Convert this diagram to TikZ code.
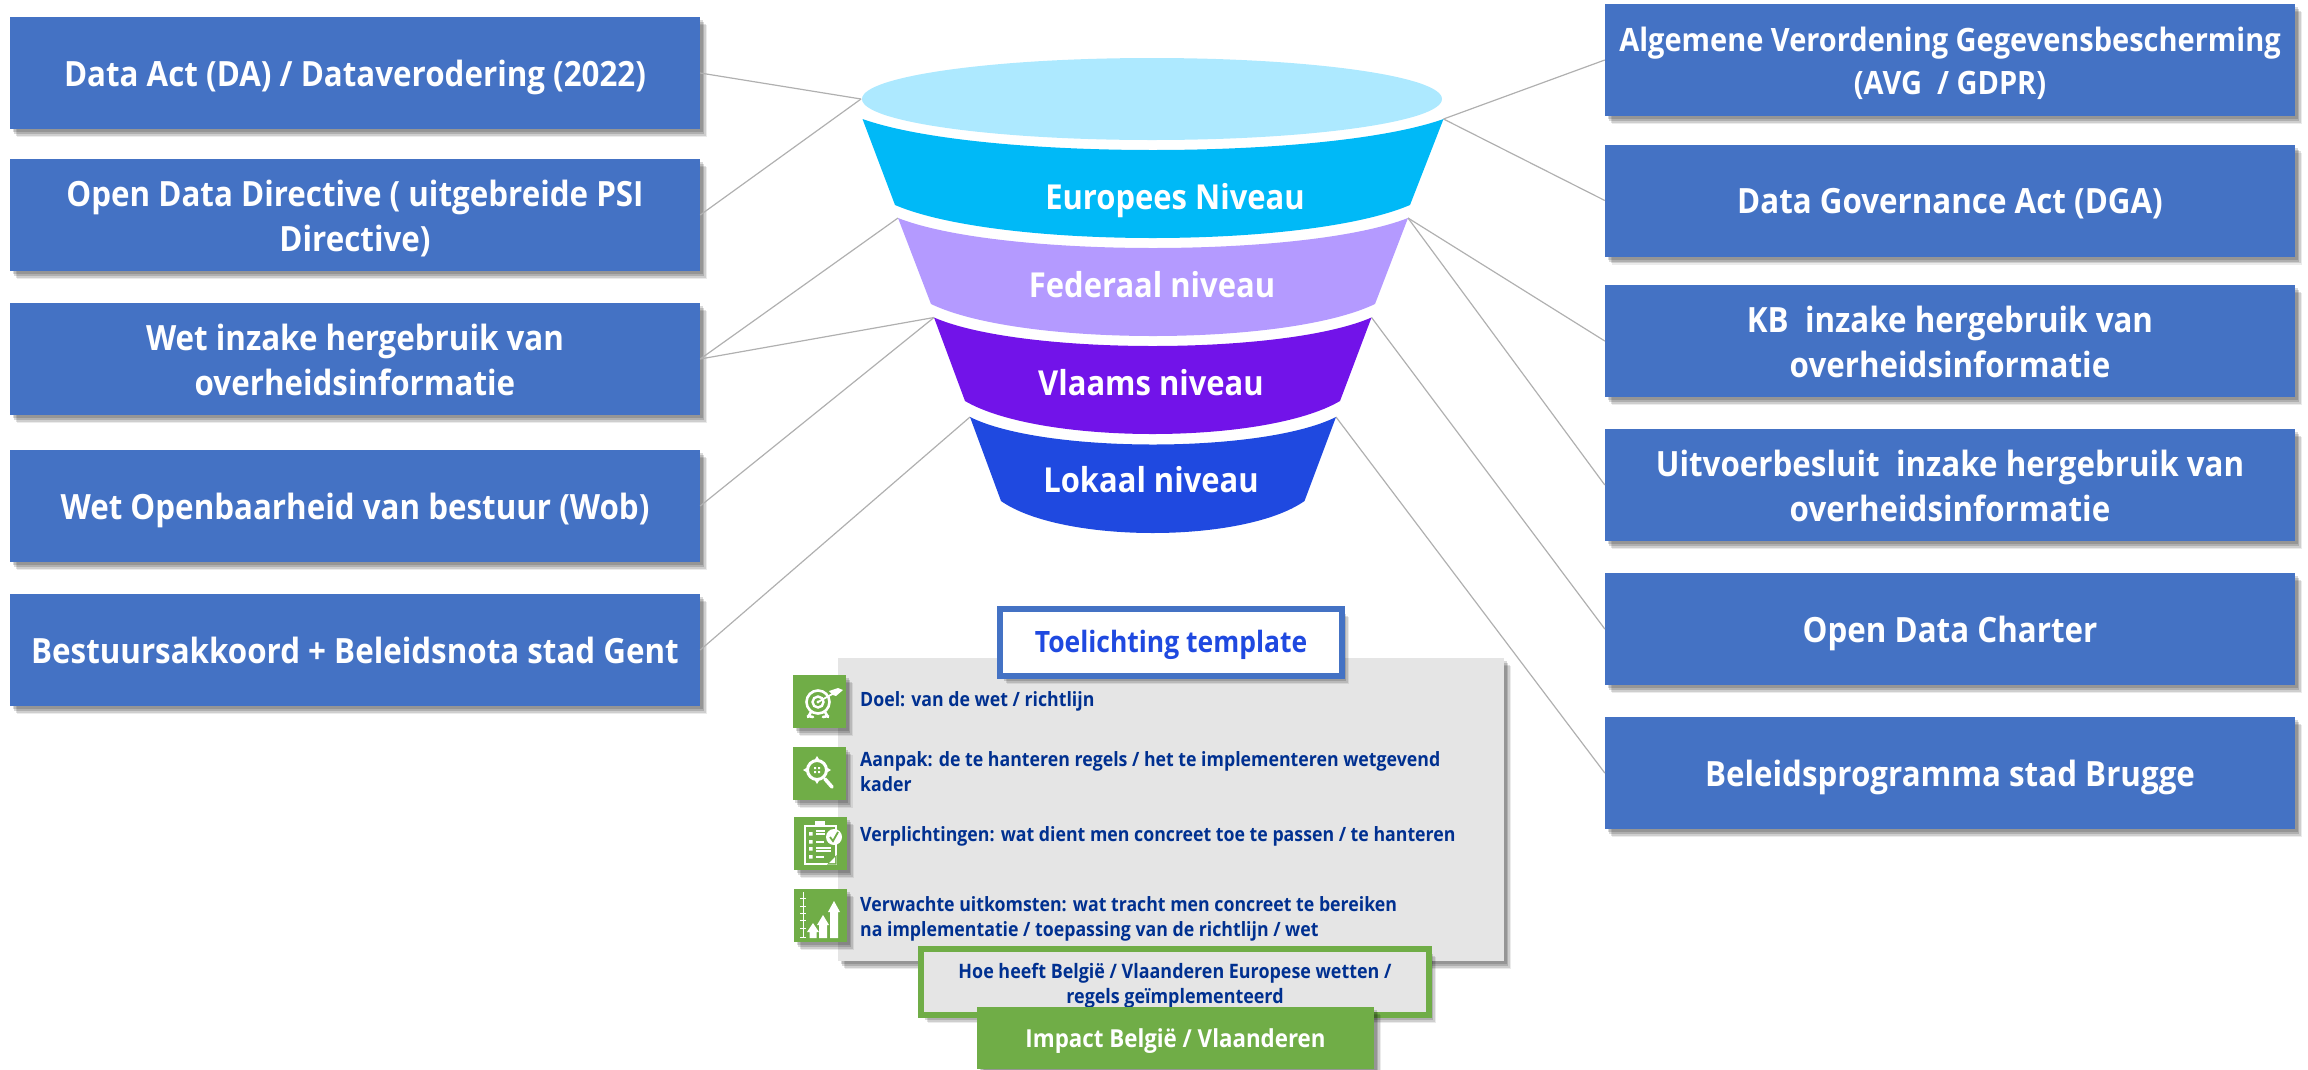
\documentclass[tikz,border=0pt]{standalone}
\usepackage{fontspec}
\setmainfont{Open Sans}[FakeStretch=0.9]
\usetikzlibrary{shadows,calc}
\definecolor{boxblue}{HTML}{4472C4}
\definecolor{bandA}{HTML}{00B9F7}
\definecolor{topell}{HTML}{ADE9FF}
\definecolor{bandB}{HTML}{B49AFF}
\definecolor{bandC}{HTML}{7213E9}
\definecolor{bandD}{HTML}{1F49E0}
\definecolor{greenbox}{HTML}{70AD47}
\definecolor{panelgray}{HTML}{E5E5E5}
\definecolor{darktext}{HTML}{003090}
\definecolor{linegray}{HTML}{B0B0B0}
% text placed by its first baseline, relative to the node centre
\newcommand{\lawone}[1]{\smash{\raisebox{-13.3pt}{#1}}}
\newcommand{\lawtwo}[2]{\smash{\raisebox{9pt}{\begin{tabular}[t]{@{}c@{}}#1\\#2\end{tabular}}}}
\newcommand{\hoelines}[2]{\smash{\raisebox{4pt}{\begin{tabular}[t]{@{}c@{}}#1\\#2\end{tabular}}}}
\tikzset{
  softshadow/.style={
    drop shadow={shadow xshift=7pt,shadow yshift=-8pt,fill=black,opacity=.08},
    drop shadow={shadow xshift=5.5pt,shadow yshift=-6.5pt,fill=black,opacity=.12},
    drop shadow={shadow xshift=4pt,shadow yshift=-5pt,fill=black,opacity=.15},
    drop shadow={shadow xshift=2.5pt,shadow yshift=-3pt,fill=black,opacity=.15}},
  lawbox/.style={draw=none,fill=boxblue,text=white,font=\bfseries\fontsize{34.8}{45}\selectfont,
    minimum width=690pt,minimum height=112pt,inner sep=0pt,softshadow},
  link/.style={draw=linegray,line width=1.2pt},
  bandlabel/.style={text=white,font=\bfseries\fontsize{34.4}{40}\selectfont,inner sep=0pt,text height=40pt,text depth=16pt},
  tmpl/.style={text=darktext,font=\bfseries\fontsize{19.7}{25}\selectfont,anchor=west,align=left,inner sep=0pt},
  iconbox/.style={fill=greenbox,draw=none,minimum width=53pt,minimum height=53pt,inner sep=0pt,softshadow},
  ic/.style={draw=white,line width=2pt,fill=none},
}
\newcommand{\funnelband}[9]{%
  \pgfmathsetmacro{\tw}{#3-#2}\pgfmathsetmacro{\bw}{#7-#6}%
  \pgfmathsetmacro{\tc}{#4+4/3*(#5-#4)}\pgfmathsetmacro{\bc}{#8+4/3*(#9-#8)}%
  \pgfmathsetmacro{\tA}{#2+.2*\tw}\pgfmathsetmacro{\tB}{#3-.2*\tw}%
  \pgfmathsetmacro{\bA}{#7-.2*\bw}\pgfmathsetmacro{\bB}{#6+.2*\bw}%
  \fill[#1] (#2,#4) .. controls (\tA,\tc) and (\tB,\tc) .. (#3,#4) -- (#7,#8)
    .. controls (\bA,\bc) and (\bB,\bc) .. (#6,#8) -- cycle;}
\begin{document}
\begin{tikzpicture}[x=1pt,y=-1pt]
\useasboundingbox (0,0) rectangle (2308,1069);
\coordinate (ell) at (861,99);
\coordinate (aR) at (1443.5,119);
\coordinate (bL) at (898,218);
\coordinate (bR) at (1408,218);
\coordinate (cL) at (934,317.5);
\coordinate (cR) at (1371.5,317.5);
\coordinate (dL) at (970,417);
\coordinate (dR) at (1336,417);
% boxes left
\node[lawbox] (l1) at (355,73) {\lawone{Data Act (DA) / Dataverodering (2022)}};
\node[lawbox] (l2) at (355,215) {\lawtwo{Open Data Directive ( uitgebreide PSI}{Directive)}};
\node[lawbox] (l3) at (355,359) {\lawtwo{Wet inzake hergebruik van}{overheidsinformatie}};
\node[lawbox] (l4) at (355,506) {\lawone{Wet Openbaarheid van bestuur (Wob)}};
\node[lawbox] (l5) at (355,650) {\lawone{Bestuursakkoord + Beleidsnota stad Gent}};
% boxes right
\node[lawbox,font=\bfseries\fontsize{32.2}{43.5}\selectfont] (r1) at (1950,60) {\lawtwo{Algemene Verordening Gegevensbescherming}{(AVG~~/ GDPR)}};
\node[lawbox] (r2) at (1950,200.5) {\lawone{Data Governance Act (DGA)}};
\node[lawbox] (r3) at (1950,341) {\lawtwo{KB~~inzake hergebruik van}{overheidsinformatie}};
\node[lawbox] (r4) at (1950,485) {\lawtwo{Uitvoerbesluit~~inzake hergebruik van}{overheidsinformatie}};
\node[lawbox] (r5) at (1950,629) {\lawone{Open Data Charter}};
\node[lawbox] (r6) at (1950,773) {\lawone{Beleidsprogramma stad Brugge}};
% connectors
\draw[link] (l1.east) -- (ell);
\draw[link] (l2.east) -- (ell);
\draw[link] (l3.east) -- (bL);
\draw[link] (l3.east) -- (cL);
\draw[link] (l4.east) -- (cL);
\draw[link] (l5.east) -- (dL);
\draw[link] (r1.west) -- (aR);
\draw[link] (r2.west) -- (aR);
\draw[link] (r3.west) -- (bR);
\draw[link] (r4.west) -- (bR);
\draw[link] (r5.west) -- (cR);
\draw[link] (r6.west) -- (dR);
% funnel
\fill[topell] (1152,99) ellipse [x radius=290,y radius=41];
\funnelband{bandA}{862.5}{1443.5}{119}{150}{895}{1410}{205}{238}
\funnelband{bandB}{898}{1408}{218}{248}{931}{1375}{304}{336}
\funnelband{bandC}{934}{1371.5}{317.5}{346}{965}{1340}{401}{434}
\funnelband{bandD}{970}{1336}{417}{444.5}{1001}{1304.5}{501}{533}
\node[bandlabel] (nA) at (1175,197) {Europees Niveau};
\node[bandlabel] (nB) at (1152,285) {Federaal niveau};
\node[bandlabel] (nC) at (1151,383) {Vlaams niveau};
\node[bandlabel] (nD) at (1151,480) {Lokaal niveau};
% template panel
\node[fill=panelgray,minimum width=666pt,minimum height=303pt,inner sep=0pt,softshadow] (panel) at (1171,809.5) {};
\node[fill=white,draw=boxblue,line width=6pt,minimum width=342pt,minimum height=67pt,inner sep=0pt,softshadow,
  text=bandD,font=\bfseries\fontsize{29.4}{32}\selectfont,text height=32pt,text depth=12pt] (title) at (1171,642.5) {Toelichting template};
% icon boxes
\node[iconbox] (i1) at (819.5,701.5) {};
\node[iconbox] (i2) at (819,773.5) {};
\node[iconbox] (i3) at (820.5,843.5) {};
\node[iconbox] (i4) at (820.5,915.5) {};
% icon 1: target
\draw[ic,line width=2.6pt] (818,702) circle (11.5);
\draw[ic,line width=2.4pt] (818,702) circle (5.5);
\fill[white] (818,702) circle (1.6);
\draw[white,line width=1.8pt] (818,702) -- (836,692);
\fill[white] (829,691) -- (838,688) -- (843,690) -- (836,696) -- (833,695) -- cycle;
\draw[white,line width=2.6pt,line cap=round] (811,712) -- (808,717) (825,712) -- (828,717) (808,716) -- (813,717) (828,716) -- (823,717);
% icon 2: crosshair and magnifier
\draw[ic,line width=3pt] (817,770) circle (9.5);
\fill[white] (817,756) -- (820,761) -- (814,761) -- cycle;
\fill[white] (817,784) -- (820,779) -- (814,779) -- cycle;
\fill[white] (803,770) -- (808,767) -- (808,773) -- cycle;
\fill[white] (831,770) -- (826,767) -- (826,773) -- cycle;
\fill[white] (814,767) rectangle (816,769) (818,767) rectangle (820,769) (814,771) rectangle (816,773) (818,771) rectangle (820,773);
\draw[white,line width=3.6pt,line cap=round] (825,779) -- (832,787);
% icon 3: clipboard
\draw[ic,line width=1.6pt] (805,826) rectangle (836,864);
\fill[white] (815,821) rectangle (825,827);
\fill[white] (809,832) rectangle (812.5,835.5) (809,840) rectangle (812.5,843.5) (809,847) rectangle (812.5,850.5) (809,855) rectangle (812.5,858.5);
\draw[white,line width=1.2pt] (816,831) -- (825,831) (816,834) -- (825,834) (816,842) -- (824,842) (816,848) -- (831,848) (816,851) -- (831,851) (816,857) -- (824,857);
\fill[greenbox] (827,864.5) -- (836.5,855) -- (836.5,864.5) -- cycle;
\fill[white] (829,863) -- (835,857) -- (835,863) -- cycle;
\fill[white] (834,837) circle (8);
\draw[greenbox,line width=1.8pt] (830,837) -- (833,841) -- (838,832);
% icon 4: growth chart
\draw[white,line width=1pt] (803,892) -- (803,938);
\draw[white,line width=1pt] (800,898) -- (806,898) (800,906) -- (806,906) (800,913) -- (806,913) (800,920) -- (806,920) (800,928) -- (806,928) (800,937) -- (806,937);
\fill[white] (813,923) -- (819,932) -- (816.5,932) -- (816.5,938) -- (809.5,938) -- (809.5,932) -- (807,932) -- cycle;
\fill[white] (823,915) -- (829,925) -- (827,925) -- (827,938) -- (819,938) -- (819,925) -- (817,925) -- cycle;
\fill[white] (834,901) -- (840,912) -- (838,912) -- (838,938) -- (830,938) -- (830,912) -- (828,912) -- cycle;
% template texts
\node[tmpl] (t1) at (860,701) {Doel: van de wet / richtlijn};
\node[tmpl] (t2) at (860,771.5) {Aanpak: de te hanteren regels / het te implementeren wetgevend\\kader};
\node[tmpl] (t3) at (860,836) {Verplichtingen: wat dient men concreet toe te passen / te hanteren};
\node[tmpl] (t4) at (860,918.5) {Verwachte uitkomsten: wat tracht men concreet te bereiken\\na implementatie / toepassing van de richtlijn / wet};
% bottom boxes
\node[fill=panelgray,draw=greenbox,line width=6pt,minimum width=508pt,minimum height=66pt,inner sep=0pt,softshadow,
  text=darktext,font=\bfseries\fontsize{19.9}{25}\selectfont] (how) at (1175,982) {\hoelines{Hoe heeft België / Vlaanderen Europese wetten /}{regels geïmplementeerd}};
\node[fill=greenbox,minimum width=397pt,minimum height=62pt,inner sep=0pt,softshadow,text=white,
  font=\bfseries\fontsize{24.8}{30}\selectfont,text height=28pt,text depth=10pt] (impact) at (1175.5,1038) {Impact België / Vlaanderen};
\end{tikzpicture}
\end{document}
